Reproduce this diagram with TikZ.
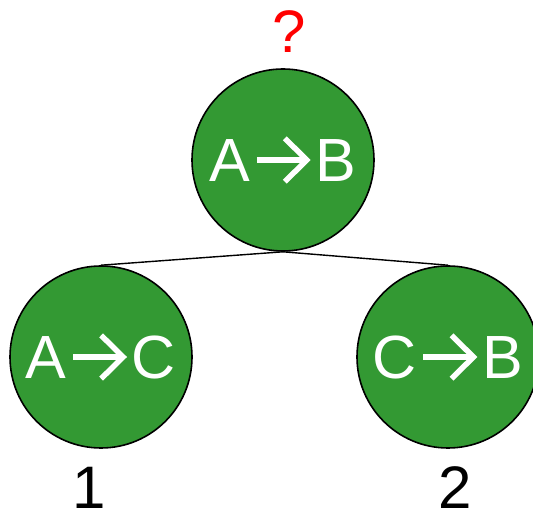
\documentclass[tikz,border=0pt]{standalone}
\usepackage{fontspec}
\setmainfont{Liberation Sans}
\usetikzlibrary{positioning}
\definecolor{leaf}{HTML}{339933}
\definecolor{query}{HTML}{FF0000}

% arrow glyph drawn in the text colour
\newcommand{\sendarrow}{\hspace{0.06em}\tikz[baseline=0pt]{
    \draw[white, line width=0.09em, line join=miter] (0,0.355em) -- (0.8em,0.355em);
    \draw[white, line width=0.09em, line join=miter] (0.46em,0.71em) -- (0.82em,0.355em) -- (0.46em,0em);
  }\hspace{0.1em}}

\tikzset{
  state/.style={circle, draw=black, line width=1.6pt, fill=leaf, text=white,
    minimum size=182pt, inner sep=0pt, font=\fontsize{61}{61}\selectfont},
  tag/.style={anchor=base, inner sep=0pt, font=\fontsize{60}{60}\selectfont},
  branch/.style={draw=black, line width=1.4pt}
}

\begin{document}
\begin{tikzpicture}[x=1pt, y=-1pt]
  \useasboundingbox (0,0) rectangle (533,518);

  \node[state] (root) at (283,160) {A\sendarrow B};
  \node[state] (left) at (101,357) {A\sendarrow C};
  \node[state] (right) at (448,357) {C\sendarrow B};

  \node[tag, text=query] (ask) at (289,53) {?};
  \node[tag] (one) at (89,508) {1};
  \node[tag] (two) at (455,508) {2};

  \draw[branch] (root.south) -- (left.north);
  \draw[branch] (root.south) -- (right.north);
\end{tikzpicture}
\end{document}
